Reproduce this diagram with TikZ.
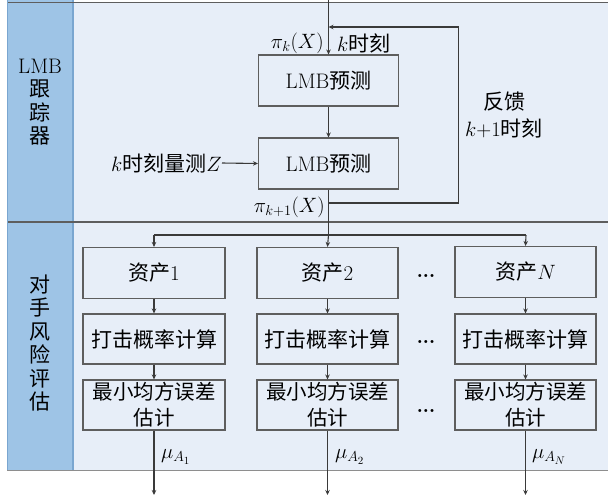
\documentclass[tikz,border=0pt]{standalone}
\usepackage{fontspec}
\newfontfamily\cjk{Noto Sans CJK SC}
\usetikzlibrary{arrows.meta}
\newcommand{\zh}[1]{{\cjk #1}}
\newcommand{\fsz}{\fontsize{21}{25}\selectfont}
\newcommand{\hdots}{\raisebox{0.22em}{\bfseries.\kern-0.5pt.\kern-0.5pt.}}
\definecolor{panel}{HTML}{E7EEF8}
\definecolor{strip}{HTML}{9EC4E6}
\definecolor{stripedge}{HTML}{7AA6D0}
\definecolor{boxgray}{HTML}{5E5E5E}
\definecolor{linegray}{HTML}{3A3A3A}
\begin{document}
\begin{tikzpicture}[x=1pt,y=-1pt,
  box/.style={draw=boxgray, fill=panel, line width=1.1pt, minimum width=141pt, minimum height=51pt, inner sep=0pt, align=center, font=\fsz},
  arr/.style={-{Stealth[length=5pt,width=4.5pt]}, line width=1.1pt, draw=linegray},
  ln/.style={line width=1.1pt, draw=linegray},
  lbl/.style={font=\fsz, inner sep=0pt},
  side/.style={font=\fontsize{21}{23.5}\selectfont, align=center, inner sep=0pt}]
\useasboundingbox (0,0) rectangle (608,499);
% panels
\fill[panel] (73,2) rectangle (608,470);
\fill[strip] (7,0) rectangle (73,470);
\draw[stripedge, line width=1.5pt] (73,0) -- (73,470);
\draw[boxgray, line width=1pt] (7,2) -- (608,2);
\draw[boxgray, line width=1.2pt] (7,222) -- (608,222);
\draw[boxgray!70, line width=1pt] (7,470) -- (608,470);
\draw[stripedge, line width=1pt] (7,0) -- (7,470);
% side labels
\node[side] (s1) at (40,102) {LMB\\\zh{跟}\\\zh{踪}\\\zh{器}};
\node[side] (s2) at (40,343) {\zh{对}\\\zh{手}\\\zh{风}\\\zh{险}\\\zh{评}\\\zh{估}};
% tracker boxes
\node[box, minimum width=140pt] (b1) at (328.5,80.5) {LMB\zh{预测}};
\node[box, minimum width=140pt] (b2) at (328.5,163.5) {LMB\zh{预测}};
\coordinate (top) at (328.5,0);
\coordinate (fbin) at (328.5,27);
\coordinate (fbout) at (328.5,203);
\coordinate (fbr1) at (458.5,203);
\coordinate (fbr2) at (458.5,27);
\coordinate (split) at (328.5,235);
\coordinate (sl) at (154,235);
\coordinate (sr) at (526,235);
\draw[arr] (top) -- (b1.north);
\draw[arr] (b1.south) -- (b2.north);
\draw[ln] (b2.south) -- (split);
\draw[arr] (fbout) -- (fbr1) -- (fbr2) -- (fbin);
\node[lbl, anchor=east] (m) at (222,163) {$k$\zh{时刻量测}$Z$};
\draw[arr] (m.east) -- (b2.west);
\node[lbl, anchor=east] (pk) at (324,43) {$\pi_k(X)$};
\node[lbl, anchor=west] (kt) at (337,43) {$k$\zh{时刻}};
\node[lbl, anchor=east] (pk1) at (325,207) {$\pi_{k+1}(X)$};
\node[lbl] (fk) at (504,102) {\zh{反馈}};
\node[lbl] (fk1) at (504,128) {$k{+}1$\zh{时刻}};
% assets
\node[box, minimum width=142pt] (a1) at (154,273) {\zh{资产}1};
\node[box] (a2) at (327.5,273) {\zh{资产}2};
\node[box] (a3) at (525.5,272) {\zh{资产}$N$};
\node[box, minimum width=142pt, minimum height=50pt] (p1) at (154,339) {\zh{打击概率计算}};
\node[box, minimum height=50pt] (p2) at (327.5,339) {\zh{打击概率计算}};
\node[box, minimum height=50pt] (p3) at (525.5,339) {\zh{打击概率计算}};
\node[box, minimum width=142pt, minimum height=50pt, font=\fontsize{20.5}{26}\selectfont] (e1) at (154,405) {\zh{最小均方误差}\\\zh{估计}};
\node[box, minimum height=50pt, font=\fontsize{20.5}{26}\selectfont] (e2) at (327.5,405) {\zh{最小均方误差}\\\zh{估计}};
\node[box, minimum height=50pt, font=\fontsize{20.5}{26}\selectfont] (e3) at (525.5,405) {\zh{最小均方误差}\\\zh{估计}};
\draw[ln] (sl) -- (sr);
\draw[arr] (sl) -- (a1.north);
\draw[arr] (split) -- (a2.north);
\draw[arr] (sr) -- (a3.north);
\draw[arr] (a1) -- (p1);
\draw[arr] (a2) -- (p2);
\draw[arr] (a3) -- (p3);
\draw[arr] (p1) -- (e1);
\draw[arr] (p2) -- (e2);
\draw[arr] (p3) -- (e3);
\coordinate (o1) at (154,495);
\coordinate (o2) at (327.5,495);
\coordinate (o3) at (525.5,495);
\draw[arr] (e1.south) -- (o1);
\draw[arr] (e2.south) -- (o2);
\draw[arr] (e3.south) -- (o3);
\node[lbl, anchor=west] (mu1) at (161,457) {$\mu_{A_1}$};
\node[lbl, anchor=west] (mu2) at (335,457) {$\mu_{A_2}$};
\node[lbl, anchor=west] (mu3) at (532,457) {$\mu_{A_N}$};
% dots
\node[lbl] (d1) at (426,278) {\hdots};
\node[lbl] (d2) at (426,344) {\hdots};
\node[lbl] (d3) at (426,413) {\hdots};
\end{tikzpicture}
\end{document}
